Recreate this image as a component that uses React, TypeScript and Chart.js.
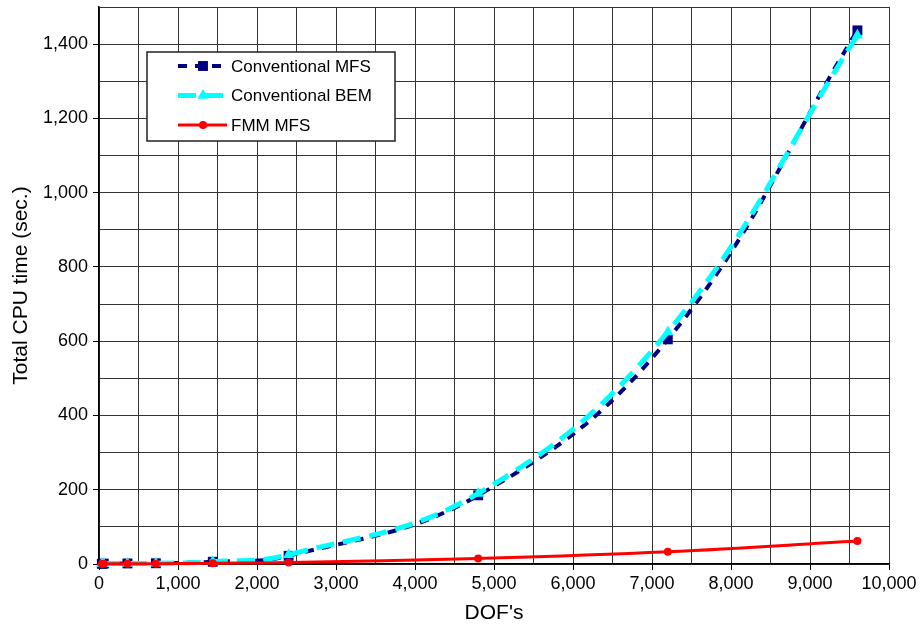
import React, { useEffect, useRef } from "react";
import { Chart, registerables } from "chart.js";

Chart.register(...registerables);

const dofs = [36, 60, 360, 720, 1440, 2400, 4800, 7200, 9600];
const mfsTimes = [0.5, 1, 1.5, 2, 6, 22, 185, 605, 1437];
const bemTimes = [0.5, 1, 1.5, 2, 6, 25, 190, 625, 1424];
const fmmTimes = [0.3, 0.5, 1, 1, 2, 4, 15, 33, 62];

const seriesLabels = ["Conventional MFS", "Conventional BEM", "FMM MFS"];
const xTitle = "DOF's";
const yTitle = "Total CPU time (sec.)";

const FONT = "'Liberation Sans', Arial, sans-serif";

const toPoints = (ys: number[]) => dofs.map((x, i) => ({ x, y: ys[i] }));

const legendPlugin = {
  id: "insideLegend",
  afterDatasetsDraw(chart: any) {
    const ctx = chart.ctx as CanvasRenderingContext2D;
    const bx = 147, by = 52, bw = 248, bh = 89;
    ctx.save();
    ctx.fillStyle = "#fff";
    ctx.fillRect(bx, by, bw, bh);
    ctx.lineWidth = 1.5;
    ctx.strokeStyle = "#222";
    ctx.strokeRect(bx, by, bw, bh);
    [0, 1, 2].forEach((di, row) => {
      const ds = chart.data.datasets[di];
      const y = 66 + row * 29.5;
      const x0 = 178, x1 = 227, xm = 203;
      ctx.save();
      ctx.strokeStyle = ds.borderColor;
      ctx.lineWidth = ds.borderWidth;
      ctx.setLineDash(ds.borderDash || []);
      ctx.beginPath();
      ctx.moveTo(x0, y);
      ctx.lineTo(x1, y);
      ctx.stroke();
      ctx.setLineDash([]);
      ctx.fillStyle = ds.pointBackgroundColor;
      const r = ds.pointRadius;
      ctx.beginPath();
      if (ds.pointStyle === "rect") {
        const s = r * Math.SQRT1_2;
        ctx.rect(xm - s, y - s, 2 * s, 2 * s);
      } else if (ds.pointStyle === "triangle") {
        ctx.moveTo(xm, y - r);
        ctx.lineTo(xm + r * 0.866, y + r * 0.5);
        ctx.lineTo(xm - r * 0.866, y + r * 0.5);
        ctx.closePath();
      } else {
        ctx.arc(xm, y, r, 0, Math.PI * 2);
      }
      ctx.fill();
      ctx.restore();
      ctx.fillStyle = "#000";
      ctx.font = `17px ${FONT}`;
      ctx.textBaseline = "middle";
      ctx.textAlign = "left";
      ctx.fillText(ds.label, 231, y + 1);
    });
    ctx.restore();
  },
};

export default function App() {
  const ref = useRef<HTMLCanvasElement | null>(null);
  useEffect(() => {
    document.body.style.margin = "0";
    const canvas = ref.current!;
    const chart = new Chart(canvas, {
      type: "line",
      data: {
        datasets: [
          {
            label: seriesLabels[0],
            data: toPoints(mfsTimes),
            borderColor: "#000080",
            backgroundColor: "#000080",
            pointBackgroundColor: "#000080",
            pointBorderColor: "#000080",
            pointStyle: "rect",
            pointRadius: 7,
            pointBorderWidth: 0,
            borderWidth: 4,
            borderDash: [9, 8],
            tension: 0.4,
            order: 3,
            clip: false,
          },
          {
            label: seriesLabels[1],
            data: toPoints(bemTimes),
            borderColor: "#00FFFF",
            backgroundColor: "#00FFFF",
            pointBackgroundColor: "#00FFFF",
            pointBorderColor: "#00FFFF",
            pointStyle: "triangle",
            pointRadius: 6.5,
            pointBorderWidth: 0,
            borderWidth: 5,
            borderDash: [18, 9],
            tension: 0.4,
            order: 2,
            clip: false,
          },
          {
            label: seriesLabels[2],
            data: toPoints(fmmTimes),
            borderColor: "#FF0000",
            backgroundColor: "#FF0000",
            pointBackgroundColor: "#FF0000",
            pointBorderColor: "#FF0000",
            pointStyle: "circle",
            pointRadius: 4,
            pointBorderWidth: 0,
            borderWidth: 3,
            tension: 0.4,
            order: 1,
            clip: false,
          },
        ],
      },
      options: {
        animation: false,
        responsive: false,
        maintainAspectRatio: false,
        layout: { padding: { top: 5, right: 31, left: 0, bottom: 0 } },
        plugins: {
          legend: { display: false },
          tooltip: { enabled: false },
        },
        scales: {
          x: {
            type: "linear",
            min: 0,
            max: 10000,
            afterFit: (s: any) => {
              s.height = 66;
              s.paddingLeft = 0;
              s.paddingRight = 0;
            },
            ticks: {
              stepSize: 500,
              autoSkip: false,
              maxRotation: 0,
              padding: 3,
              color: "#000",
              font: { family: FONT, size: 18 },
              callback: (v: any) =>
                Number(v) % 1000 === 0 ? Number(v).toLocaleString("en-US") : "",
            },
            grid: {
              color: "#333",
              lineWidth: 1,
              tickLength: 6,
              tickColor: (c: any) =>
                c.tick && c.tick.value % 1000 === 0 ? "#000" : "rgba(0,0,0,0)",
            },
            border: { color: "#000", width: 1.5 },
            title: {
              display: true,
              text: xTitle,
              color: "#000",
              font: { family: FONT, size: 21 },
              padding: { top: 0, bottom: 4 },
            },
          },
          y: {
            type: "linear",
            min: 0,
            max: 1500,
            afterFit: (s: any) => {
              s.width = 99;
              s.paddingTop = 0;
              s.paddingBottom = 0;
            },
            ticks: {
              stepSize: 100,
              autoSkip: false,
              padding: 5,
              color: "#000",
              font: { family: FONT, size: 18 },
              callback: (v: any) =>
                Number(v) % 200 === 0 ? Number(v).toLocaleString("en-US") : "",
            },
            grid: {
              color: "#333",
              lineWidth: 1,
              tickLength: 6,
              tickColor: (c: any) =>
                c.tick && c.tick.value % 200 === 0 ? "#000" : "rgba(0,0,0,0)",
            },
            border: { color: "#000", width: 1.5 },
            title: {
              display: true,
              text: yTitle,
              color: "#000",
              font: { family: FONT, size: 21 },
              padding: { top: 9, bottom: 0 },
            },
          },
        },
      },
      plugins: [legendPlugin],
    });
    return () => chart.destroy();
  }, []);
  return (
    <div style={{ width: 920, height: 630 }}>
      <canvas ref={ref} width={920} height={630} style={{ display: "block" }} />
    </div>
  );
}
